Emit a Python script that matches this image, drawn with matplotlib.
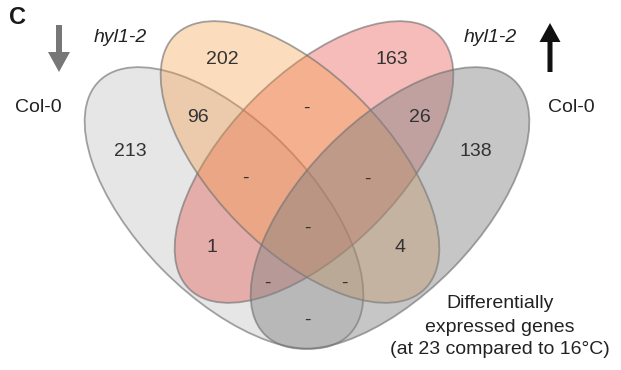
import matplotlib
matplotlib.use("Agg")
import matplotlib.pyplot as plt
from matplotlib.patches import Ellipse

plt.rcParams["font.family"] = ["Liberation Sans", "DejaVu Sans"]

# ---- data -------------------------------------------------------------
panel_letter = "C"
set_names = ["Col-0", "hyl1-2", "hyl1-2", "Col-0"]   # down / down / up / up
regions = ["A", "B", "C", "D", "AB", "CD", "BC", "ABC", "BCD", "ABCD",
           "AC", "BD", "ACD", "ABD", "AD"]
counts = [213, 202, 163, 138, 96, 26, None, None, None, None,
          1, 4, None, None, None]
caption = ["Differentially", "expressed genes", "(at 23 compared to 16\u00b0C)"]

# ---- layout (pixel-like coordinates, y downwards) ---------------------
W, H = 621, 370
fig = plt.figure(figsize=(W / 100, H / 100), dpi=100)
ax = fig.add_axes([0, 0, 1, 1])
ax.set_xlim(0, W)
ax.set_ylim(H, 0)
ax.axis("off")

semi_major, semi_minor = 178, 87
ellipses = {
    "A": dict(xy=(224, 208), angle=45.5, fc=(200, 200, 200), alpha=0.45),
    "B": dict(xy=(300, 162), angle=45.5, fc=(246, 155, 64), alpha=0.35),
    "C": dict(xy=(314, 162), angle=134.5, fc=(229, 80, 74), alpha=0.38),
    "D": dict(xy=(390, 208), angle=134.5, fc=(129, 129, 129), alpha=0.45),
}
for key in ["A", "C", "B", "D"]:
    e = ellipses[key]
    r, g, b = (c / 255 for c in e["fc"])
    ax.add_patch(Ellipse(e["xy"], 2 * semi_major, 2 * semi_minor,
                         angle=e["angle"],
                         facecolor=(r, g, b, e["alpha"]),
                         edgecolor=(0.45, 0.45, 0.45, 0.65),
                         linewidth=1.3))

label_pos = {
    "A": (130, 152), "B": (222, 59), "C": (392, 59), "D": (476, 152),
    "AB": (198, 118), "CD": (420, 118), "BC": (306, 108),
    "ABC": (245, 178), "BCD": (367, 179), "ABCD": (307, 228),
    "AC": (212, 248), "BD": (400, 248), "ACD": (267, 283),
    "ABD": (344, 283), "AD": (307, 320),
}
for key, n in zip(regions, counts):
    x, y = label_pos[key]
    txt = "-" if n is None else str(n)
    ax.text(x, y, txt, ha="center", va="center", fontsize=14,
            color="#333333")

# set names
ax.text(38.5, 107, set_names[0], ha="center", va="center", fontsize=14,
        color="#222222")
ax.text(120, 37, set_names[1], ha="center", va="center", fontsize=14,
        style="italic", color="#222222")
ax.text(490, 37, set_names[2], ha="center", va="center", fontsize=14,
        style="italic", color="#222222")
ax.text(571, 107, set_names[3], ha="center", va="center", fontsize=14,
        color="#222222")

# direction arrows
ax.arrow(59, 25, 0, 47, width=6, head_width=22, head_length=20,
         length_includes_head=True, color="#777777", linewidth=0)
ax.arrow(550, 72, 0, -49, width=5, head_width=21, head_length=19,
         length_includes_head=True, color="#111111", linewidth=0)

# panel letter
ax.text(18, 17, panel_letter, ha="center", va="center", fontsize=17,
        fontweight="bold", color="#1a1a1a")

# caption
for y, line in zip([303, 327, 350], caption):
    ax.text(500, y, line, ha="center", va="center", fontsize=14,
            color="#222222")

fig.savefig("out.png", dpi=100)
